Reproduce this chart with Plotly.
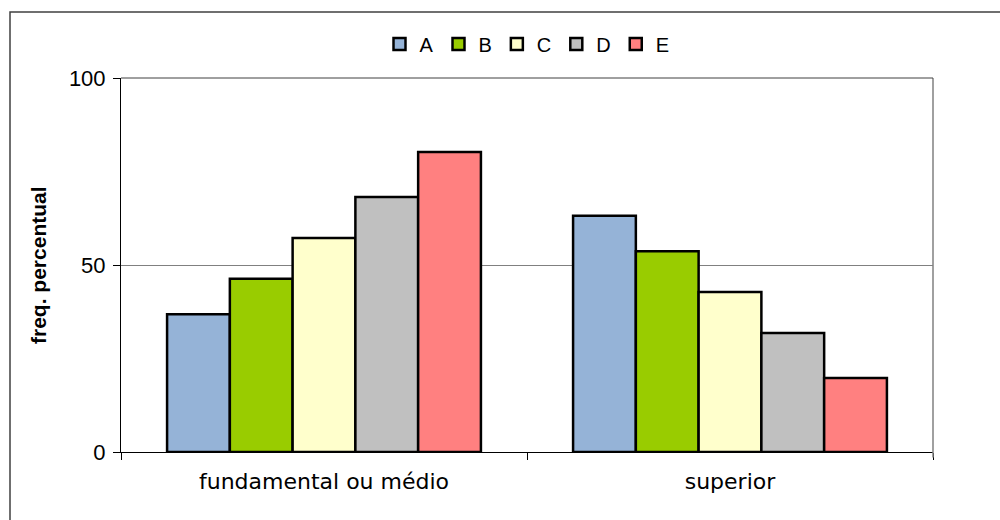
import plotly.graph_objects as go

categories = ["fundamental ou médio", "superior"]
series_names = ["A", "B", "C", "D", "E"]
values_A = [36.8, 63.2]
values_B = [46.3, 53.7]
values_C = [57.2, 42.8]
values_D = [68.2, 31.8]
values_E = [80.2, 19.8]
y_ticks = [0, 50, 100]

series_values = [values_A, values_B, values_C, values_D, values_E]
colors = ["#95B3D7", "#99CC00", "#FFFFCC", "#C0C0C0", "#FF8080"]

fig = go.Figure()
for name, vals, col in zip(series_names, series_values, colors):
    fig.add_trace(go.Bar(
        x=categories, y=vals, name=name,
        marker=dict(color=col, line=dict(color="black", width=2.5)),
    ))

L, R, T, B = 121, 933, 78, 452
W, H = 1000, 520
pw, ph = R - L, B - T

fig.update_layout(
    width=W, height=H,
    margin=dict(l=L, r=W - R, t=T, b=H - B),
    paper_bgcolor="white", plot_bgcolor="white",
    barmode="group", bargap=0.227, bargroupgap=0,
    font=dict(family="Arial, Liberation Sans", color="black"),
    showlegend=True,
    legend=dict(orientation="h", x=0.5, xanchor="center", y=(B - 44) / ph, yanchor="middle",
                font=dict(size=20, family="Arial, Liberation Sans"), itemwidth=30,
                traceorder="normal"),
    xaxis=dict(
        type="category", tickson="boundaries", ticks="outside", ticklen=7,
        tickcolor="black", showline=True, linecolor="black", linewidth=1,
        tickfont=dict(size=22, family="DejaVu Sans"), showgrid=False,
        ticklabelstandoff=10,
    ),
    yaxis=dict(
        range=[0, 100], tickvals=y_ticks, ticks="outside", ticklen=7, tickcolor="black",
        showline=True, linecolor="black", linewidth=1,
        showgrid=True, gridcolor="#808080", gridwidth=1,
        tickfont=dict(size=22, family="Arial, Liberation Sans"), zeroline=False,
        ticklabelstandoff=3,
    ),
    annotations=[dict(
        text="<b>freq. percentual</b>", textangle=-90, xref="paper", yref="paper",
        x=(38 - L) / pw, y=0.5, xanchor="center", yanchor="middle", showarrow=False,
        font=dict(size=21, family="Arial, Liberation Sans"),
    )],
    shapes=[
        dict(type="line", xref="paper", yref="paper", x0=1, x1=1, y0=-0.015, y1=1,
             line=dict(color="#808080", width=1.5)),
        dict(type="line", xref="paper", yref="paper", x0=0, x1=1, y0=1, y1=1,
             line=dict(color="#404040", width=1)),
        dict(type="rect", xref="paper", yref="paper",
             x0=(10 - L) / pw, x1=1.2, y0=-0.3, y1=(B - 12) / ph,
             line=dict(color="#404040", width=1.5)),
    ],
)

fig.write_html("out.html", config={"displayModeBar": False},
               post_script="document.body.style.margin='0';")
